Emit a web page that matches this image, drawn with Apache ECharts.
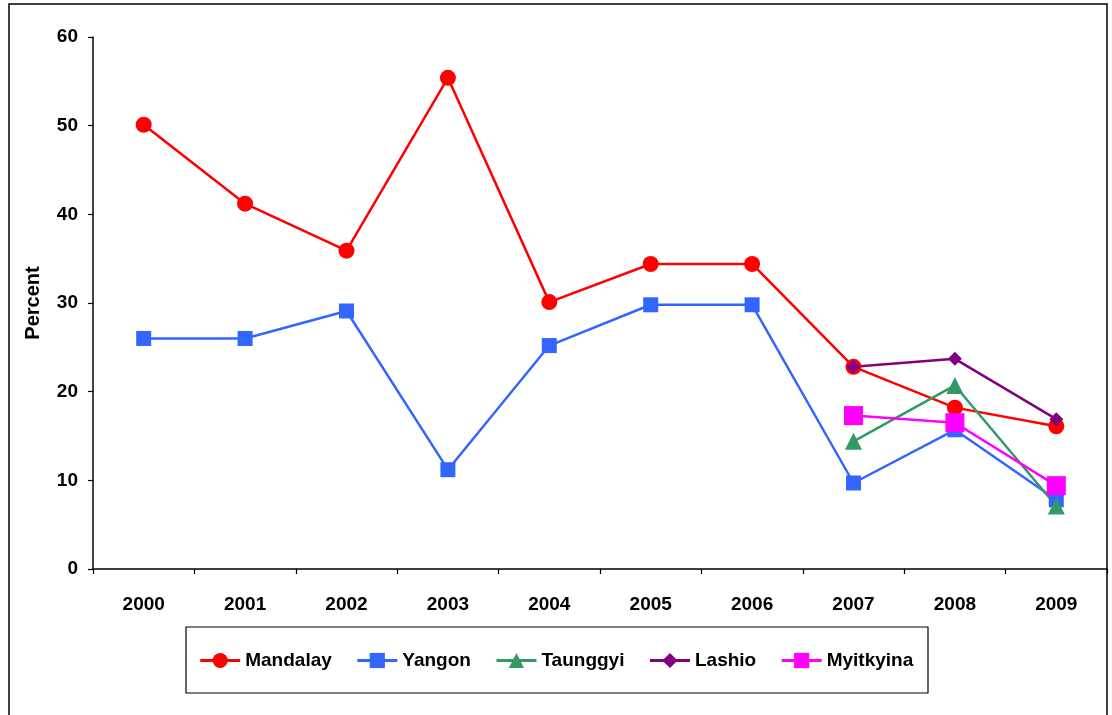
<!DOCTYPE html>
<html>
<head>
<meta charset="utf-8">
<script src="https://cdn.jsdelivr.net/npm/echarts@6/dist/echarts.min.js"></script>
<style>
html,body{margin:0;padding:0;background:#fff;}
#chart{width:1112px;height:715px;}
</style>
</head>
<body>
<div id="chart"></div>
<script>
const years = ['2000','2001','2002','2003','2004','2005','2006','2007','2008','2009'];
const mandalay = [50.1, 41.2, 35.9, 55.4, 30.1, 34.4, 34.4, 22.8, 18.2, 16.1];
const yangon = [26.0, 26.0, 29.1, 11.2, 25.2, 29.8, 29.8, 9.7, 15.7, 7.8];
const taunggyi = [null, null, null, null, null, null, null, 14.4, 20.7, 7.1];
const lashio = [null, null, null, null, null, null, null, 22.8, 23.7, 16.9];
const myitkyina = [null, null, null, null, null, null, null, 17.3, 16.5, 9.4];

const FONT = 'Liberation Sans, Arial, sans-serif';
function line(name, data, color, symbol, size) {
  return {
    name: name, type: 'line', data: data, symbol: symbol, symbolSize: size,
    showAllSymbol: true, connectNulls: false,
    lineStyle: {color: color, width: 2.5},
    itemStyle: {color: color},
    emphasis: {disabled: true}
  };
}
const chart = echarts.init(document.getElementById('chart'));
chart.setOption({
  animation: false,
  backgroundColor: '#fff',
  grid: {left: 93, right: 5, top: 37, bottom: 146},
  graphic: [
    {type: 'rect', shape: {x: 9, y: 4, width: 1098, height: 730}, style: {fill: 'none', stroke: '#000', lineWidth: 1.5}, silent: true},
    {type: 'rect', shape: {x: 186, y: 627, width: 742, height: 66}, style: {fill: 'none', stroke: '#000', lineWidth: 1.2}, silent: true}
  ],
  legend: {
    left: 'center', top: 646,
    itemWidth: 40, itemHeight: 19, itemGap: 24,
    lineStyle: {width: 3},
    textStyle: {fontFamily: FONT, fontWeight: 'bold', fontSize: 19, color: '#000'},
    data: ['Mandalay','Yangon','Taunggyi','Lashio','Myitkyina']
  },
  xAxis: {
    type: 'category', data: years, boundaryGap: true,
    axisLine: {lineStyle: {color: '#000', width: 1.5}},
    axisTick: {show: true, length: 5, inside: false, lineStyle: {color: '#000', width: 1.2}},
    axisLabel: {margin: 26, fontFamily: FONT, fontWeight: 'bold', fontSize: 19, color: '#000'},
    splitLine: {show: false}
  },
  yAxis: {
    type: 'value', min: 0, max: 60, interval: 10,
    name: 'Percent', nameLocation: 'middle', nameGap: 50, nameRotate: 90,
    nameTextStyle: {fontFamily: FONT, fontWeight: 'bold', fontSize: 20, color: '#000'},
    axisLine: {show: true, lineStyle: {color: '#000', width: 1.5}},
    axisTick: {show: true, length: 5, inside: false, lineStyle: {color: '#000', width: 1.2}},
    axisLabel: {margin: 15, fontFamily: FONT, fontWeight: 'bold', fontSize: 19, color: '#000'},
    splitLine: {show: false}
  },
  series: [
    line('Mandalay', mandalay, '#FF0000', 'circle', 16),
    line('Yangon', yangon, '#3366FF', 'rect', 15),
    line('Taunggyi', taunggyi, '#339966', 'triangle', 17),
    line('Lashio', lashio, '#800080', 'diamond', 14),
    line('Myitkyina', myitkyina, '#FF00FF', 'rect', 19)
  ]
});
</script>
</body>
</html>
